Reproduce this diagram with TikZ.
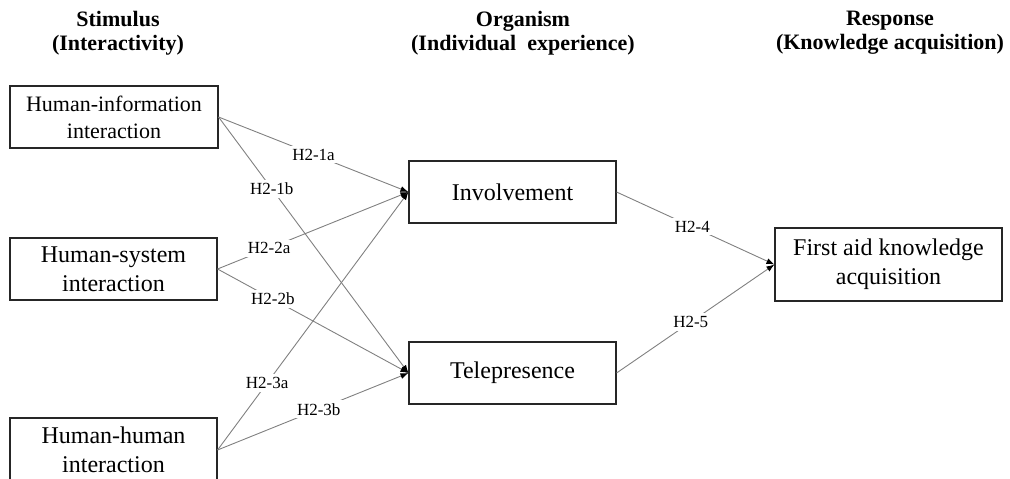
\documentclass[tikz,border=0pt]{standalone}
\usepackage{fontspec}
\setmainfont{Liberation Serif}
\usetikzlibrary{arrows.meta}

\begin{document}
\begin{tikzpicture}[x=1pt,y=-1pt,
  box/.style={draw=black!85, line width=1.1pt, inner sep=0pt, align=center,
    minimum width=207pt, minimum height=62pt,
    font=\fontsize{24}{29}\selectfont},
  head/.style={align=center, font=\bfseries\fontsize{22}{24}\selectfont},
  link/.style={draw=black!50, line width=0.9pt,
    -{Latex[length=8pt,width=6pt,color=black]}},
  hyp/.style={fill=white, inner xsep=4pt, inner ysep=3pt,
    font=\fontsize{17}{19}\selectfont}]

\useasboundingbox (0,0) rectangle (1010,479);

% column headings
\node[head] (hS) at (118,33) {Stimulus\\(Interactivity)};
\node[head] (hO) at (523,33) {Organism\\(Individual\ \ experience)};
\node[head] (hR) at (890,33) {Response\\(Knowledge acquisition)};

% stimulus boxes
\node[box, minimum width=208pt, font=\fontsize{22}{27}\selectfont] (hi) at (114,117) {Human-information\\interaction};
\node[box] (hs) at (113.5,269) {Human-system\\interaction};
\node[box, minimum height=64pt] (hh) at (113.5,450) {Human-human\\interaction};

% organism boxes
\node[box] (inv) at (512.5,192) {Involvement};
\node[box] (tel) at (512.5,373) {Telepresence};

% response box
\node[box, minimum width=227pt, minimum height=73pt] (fa) at (888.5,264.5) {First aid knowledge\\acquisition};

% hypothesised paths
\draw[link] (hi.east) -- node[hyp, pos=0.50] {H2-1a} (inv.west);
\draw[link] (hi.east) -- node[hyp, pos=0.28] {H2-1b} (tel.west);
\draw[link] (hs.east) -- node[hyp, pos=0.27] {H2-2a} (inv.west);
\draw[link] (hs.east) -- node[hyp, pos=0.29] {H2-2b} (tel.west);
\draw[link] (hh.east) -- node[hyp, pos=0.26] {H2-3a} (inv.west);
\draw[link] (hh.east) -- node[hyp, pos=0.53] {H2-3b} (tel.west);
\draw[link] (inv.east) -- node[hyp, pos=0.48] {H2-4} (fa.west);
\draw[link] (tel.east) -- node[hyp, pos=0.47] {H2-5} (fa.west);

\end{tikzpicture}
\end{document}
